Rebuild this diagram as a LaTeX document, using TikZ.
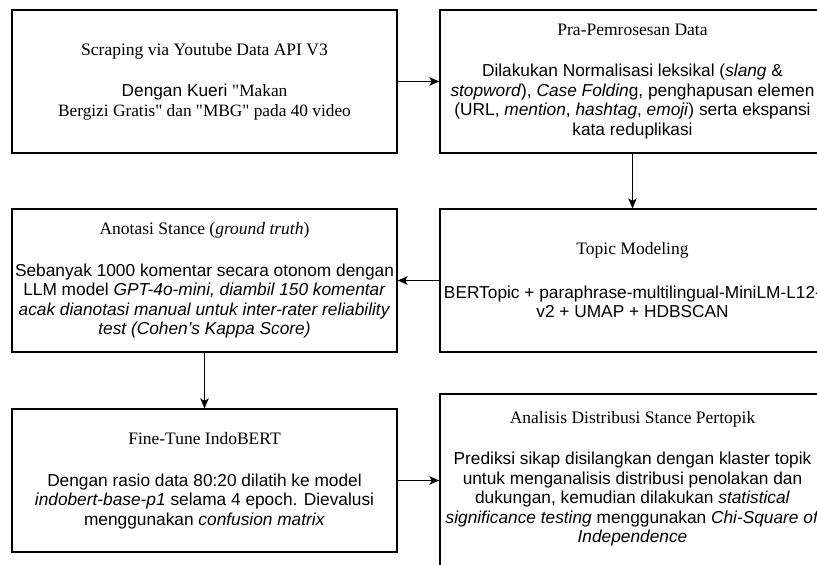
\documentclass[tikz,border=0pt]{standalone}
\usepackage{fontspec}
\setmainfont{Liberation Serif}
\newfontfamily\sansf{Liberation Sans}
\newfontfamily\seriff{Liberation Serif}
\usetikzlibrary{arrows.meta}
\newcommand{\ttlfont}{\seriff\fontsize{17.5}{19.5}\selectfont}
\begin{document}
\begin{tikzpicture}[x=1pt,y=-1pt,
  box/.style={draw=black,line width=1.3pt,minimum width=385pt,minimum height=143pt,inner sep=0pt},
  txt/.style={align=center,inner sep=0pt,text=black,font=\sansf\fontsize{17.3}{19.5}\selectfont},
  arr/.style={-{Stealth[length=10pt,width=8.5pt,inset=2.5pt]},line width=1.3pt}]
\useasboundingbox (0,0) rectangle (817,565);
\clip (0,0) rectangle (817,565);
\fill[white] (0,0) rectangle (817,565);
% boxes
\node[box] (b1) at (204.5,81.5) {};
\node[box] (b2) at (632.5,81.5) {};
\node[box] (b3) at (204.5,280.5) {};
\node[box] (b4) at (632.5,280.5) {};
\node[box] (b5) at (204.5,480.5) {};
\node[box,minimum height=173pt] (b6) at (632.5,480.5) {};
% texts
\node[txt] (t1) at (b1.center) {{\ttlfont Scraping via Youtube Data API V3}\\[22pt]
  Dengan Kueri {\seriff "Makan}\\
  {\seriff Bergizi Gratis" dan "MBG" pada 40 video}};
\node[txt] (t2) at (b2.center) {{\ttlfont Pra-Pemrosesan Data}\\[22pt]
  Dilakukan Normalisasi leksikal (\textit{slang} \&\\
  \textit{stopword}), \textit{Case Foldin}g, penghapusan elemen\\
  (URL, \textit{mention}, \textit{hashtag}, \textit{emoji}) serta ekspansi\\
  kata reduplikasi};
\node[txt] (t3) at (b3.center) {{\ttlfont Anotasi Stance (\textit{ground truth})}\\[22pt]
  Sebanyak 1000 komentar secara otonom dengan\\
  LLM model \textit{GPT-4o-mini, diambil 150 komentar}\\
  \textit{acak dianotasi manual untuk inter-rater reliability}\\
  \textit{test (Cohen’s Kappa Score)}};
\node[txt] (t4) at (b4.center) {{\ttlfont Topic Modeling}\\[24pt]
  BERTopic + paraphrase-multilingual-MiniLM-L12-\\
  v2 + UMAP + HDBSCAN};
\node[txt] (t5) at (b5.center) {{\ttlfont Fine-Tune IndoBERT}\\[22pt]
  Dengan rasio data 80:20 dilatih ke model\\
  \textit{indobert-base-p1} selama 4 epoch. Dievalusi\\
  menggunakan \textit{confusion matrix}};
\node[txt] (t6) at ([yshift=2pt]b6.center) {{\ttlfont Analisis Distribusi Stance Pertopik}\\[22pt]
  Prediksi sikap disilangkan dengan klaster topik\\
  untuk menganalisis distribusi penolakan dan\\
  dukungan, kemudian dilakukan \textit{statistical}\\
  \textit{significance testing} menggunakan \textit{Chi-Square of}\\
  \textit{Independence}};
% connectors
\draw[arr] (b1) -- (b2);
\draw[arr] (b2) -- (b4);
\draw[arr] (b4) -- (b3);
\draw[arr] (b3) -- (b5);
\draw[arr] (b5) -- (b6);
\end{tikzpicture}
\end{document}
